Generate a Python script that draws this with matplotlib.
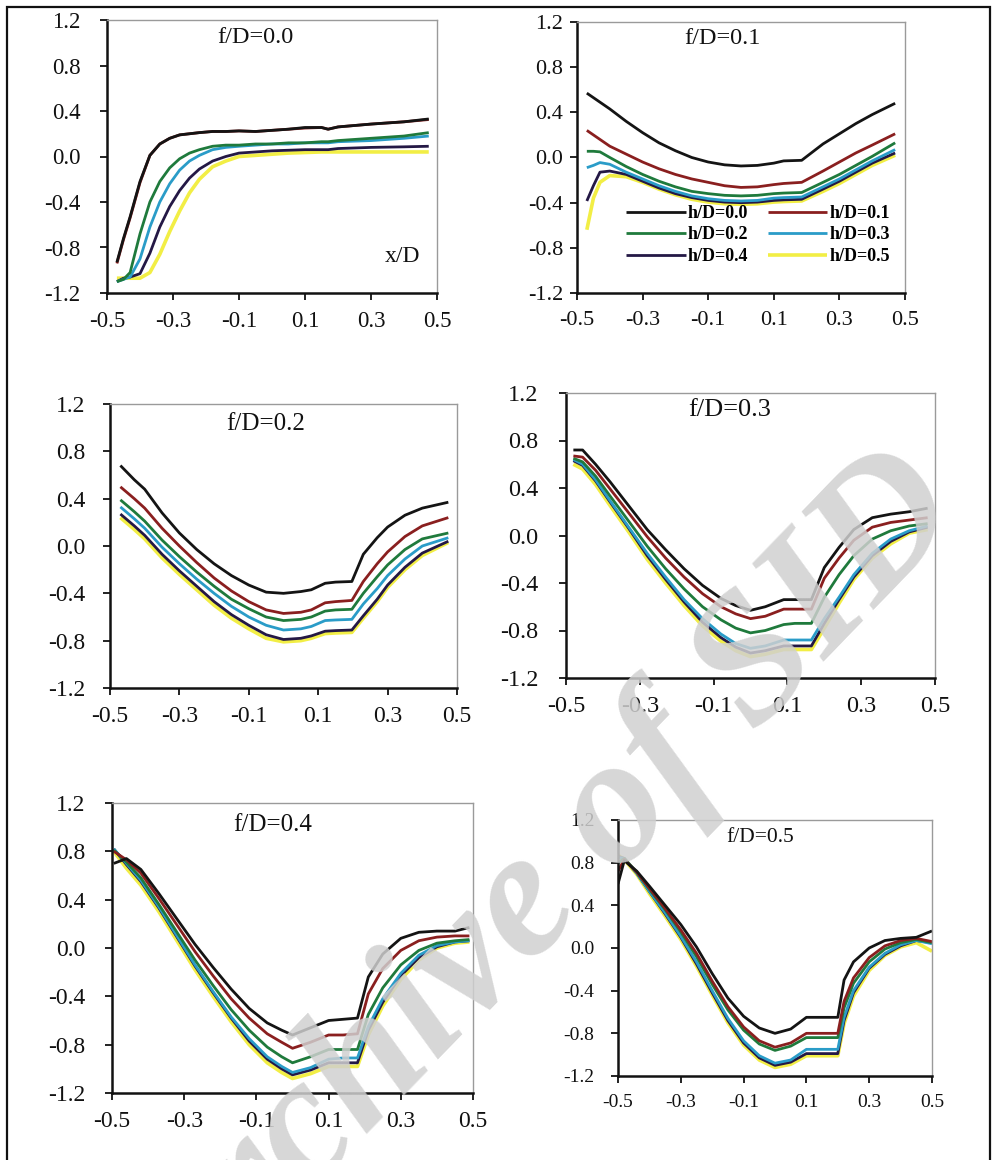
import matplotlib
matplotlib.use("Agg")
import matplotlib.pyplot as plt
from matplotlib.patches import Rectangle

plt.rcParams['font.family'] = ['Liberation Serif', 'DejaVu Serif']
plt.rcParams['axes.unicode_minus'] = False

series_labels = ["h/D=0.0", "h/D=0.1", "h/D=0.2", "h/D=0.3", "h/D=0.4", "h/D=0.5"]
series_colors = ["#141414", "#8a1f1f", "#1f7a3c", "#2a9cc8", "#241845", "#f2ee45"]
panel_titles = ["f/D=0.0", "f/D=0.1", "f/D=0.2", "f/D=0.3", "f/D=0.4", "f/D=0.5"]
x_ticks = [-0.5, -0.3, -0.1, 0.1, 0.3, 0.5]
y_ticks = [1.2, 0.8, 0.4, 0.0, -0.4, -0.8, -1.2]

# ---- f/D = 0.0 ----
x_f00 = [-0.47, -0.45, -0.43, -0.40, -0.37, -0.34, -0.31, -0.28, -0.25, -0.22, -0.18,
         -0.14, -0.10, -0.05, 0.0, 0.05, 0.10, 0.15, 0.17, 0.20, 0.30, 0.40, 0.475]
f00_h00 = [-0.93, -0.72, -0.53, -0.22, 0.01, 0.11, 0.16, 0.19, 0.20, 0.21, 0.22,
           0.22, 0.225, 0.22, 0.23, 0.24, 0.255, 0.255, 0.24, 0.26, 0.285, 0.305, 0.33]
f00_h01 = [-0.94, -0.73, -0.54, -0.23, 0.01, 0.11, 0.16, 0.19, 0.20, 0.21, 0.22,
           0.22, 0.225, 0.22, 0.23, 0.24, 0.25, 0.255, 0.24, 0.26, 0.285, 0.305, 0.325]
f00_h02 = [-1.10, -1.08, -1.02, -0.68, -0.40, -0.22, -0.10, -0.02, 0.03, 0.06, 0.09,
           0.10, 0.10, 0.11, 0.11, 0.12, 0.12, 0.13, 0.13, 0.14, 0.16, 0.18, 0.21]
f00_h03 = [-1.10, -1.08, -1.06, -0.90, -0.62, -0.40, -0.24, -0.12, -0.04, 0.01, 0.06,
           0.08, 0.09, 0.10, 0.11, 0.11, 0.12, 0.12, 0.12, 0.13, 0.14, 0.16, 0.18]
f00_h04 = [-1.10, -1.07, -1.06, -1.03, -0.85, -0.62, -0.44, -0.30, -0.19, -0.11, -0.04,
           0.0, 0.03, 0.04, 0.05, 0.055, 0.06, 0.06, 0.06, 0.07, 0.08, 0.085, 0.09]
f00_h05 = [-1.07, -1.07, -1.07, -1.07, -1.02, -0.86, -0.66, -0.48, -0.32, -0.20, -0.09,
           -0.04, 0.0, 0.01, 0.02, 0.03, 0.035, 0.04, 0.04, 0.04, 0.04, 0.04, 0.04]

# ---- f/D = 0.1 ----
x_f01 = [-0.47, -0.45, -0.43, -0.40, -0.35, -0.30, -0.25, -0.20, -0.15, -0.10, -0.05,
         0.0, 0.05, 0.10, 0.13, 0.185, 0.25, 0.30, 0.35, 0.40, 0.47]
f01_h00 = [0.57, 0.53, 0.49, 0.43, 0.32, 0.22, 0.13, 0.06, 0.0, -0.04, -0.065,
           -0.075, -0.07, -0.05, -0.03, -0.025, 0.12, 0.21, 0.30, 0.38, 0.48]
f01_h01 = [0.24, 0.20, 0.16, 0.10, 0.03, -0.04, -0.10, -0.15, -0.19, -0.22, -0.25,
           -0.265, -0.26, -0.24, -0.23, -0.22, -0.12, -0.04, 0.04, 0.11, 0.21]
f01_h02 = [0.055, 0.055, 0.05, 0.0, -0.08, -0.15, -0.21, -0.26, -0.30, -0.32, -0.335,
           -0.34, -0.335, -0.32, -0.315, -0.31, -0.22, -0.15, -0.07, 0.01, 0.13]
f01_h03 = [-0.09, -0.07, -0.045, -0.06, -0.13, -0.19, -0.25, -0.30, -0.34, -0.365, -0.38,
           -0.385, -0.38, -0.36, -0.355, -0.35, -0.26, -0.19, -0.11, -0.03, 0.07]
f01_h04 = [-0.385, -0.25, -0.13, -0.12, -0.15, -0.21, -0.27, -0.32, -0.355, -0.38, -0.395,
           -0.40, -0.395, -0.38, -0.375, -0.37, -0.28, -0.21, -0.13, -0.05, 0.04]
f01_h05 = [-0.64, -0.36, -0.22, -0.16, -0.17, -0.22, -0.28, -0.33, -0.37, -0.395, -0.41,
           -0.415, -0.41, -0.395, -0.39, -0.385, -0.30, -0.23, -0.15, -0.07, 0.02]

# ---- f/D = 0.2 ----
x_f02 = [-0.47, -0.43, -0.40, -0.35, -0.30, -0.25, -0.20, -0.15, -0.10, -0.05, 0.0,
         0.05, 0.08, 0.12, 0.15, 0.197, 0.23, 0.27, 0.30, 0.35, 0.40, 0.475]
f02_h00 = [0.68, 0.56, 0.48, 0.28, 0.11, -0.03, -0.15, -0.25, -0.33, -0.39, -0.40,
           -0.385, -0.37, -0.315, -0.305, -0.30, -0.07, 0.07, 0.16, 0.26, 0.32, 0.37]
f02_h01 = [0.50, 0.40, 0.32, 0.15, 0.0, -0.14, -0.27, -0.38, -0.47, -0.54, -0.57,
           -0.56, -0.54, -0.48, -0.47, -0.46, -0.30, -0.15, -0.05, 0.08, 0.17, 0.24]
f02_h02 = [0.39, 0.29, 0.21, 0.05, -0.09, -0.22, -0.34, -0.45, -0.53, -0.60, -0.63,
           -0.62, -0.60, -0.55, -0.54, -0.535, -0.40, -0.26, -0.16, -0.03, 0.06, 0.11]
f02_h03 = [0.33, 0.23, 0.15, -0.01, -0.15, -0.28, -0.40, -0.51, -0.60, -0.67, -0.71,
           -0.70, -0.68, -0.63, -0.625, -0.62, -0.49, -0.36, -0.25, -0.11, 0.0, 0.07]
f02_h04 = [0.27, 0.17, 0.09, -0.07, -0.21, -0.34, -0.47, -0.58, -0.67, -0.75, -0.79,
           -0.78, -0.76, -0.72, -0.715, -0.71, -0.59, -0.45, -0.33, -0.18, -0.06, 0.04]
f02_h05 = [0.24, 0.14, 0.06, -0.10, -0.24, -0.37, -0.50, -0.61, -0.70, -0.78, -0.81,
           -0.80, -0.78, -0.74, -0.735, -0.73, -0.61, -0.47, -0.35, -0.20, -0.08, 0.03]

# ---- f/D = 0.3 ----
x_f03 = [-0.48, -0.455, -0.42, -0.38, -0.33, -0.28, -0.23, -0.18, -0.13, -0.08, -0.04,
         0.0, 0.04, 0.09, 0.12, 0.165, 0.20, 0.24, 0.28, 0.33, 0.38, 0.43, 0.48]
f03_h00 = [0.72, 0.72, 0.60, 0.45, 0.25, 0.05, -0.12, -0.28, -0.42, -0.53, -0.59,
           -0.63, -0.60, -0.54, -0.54, -0.54, -0.27, -0.10, 0.05, 0.15, 0.18, 0.20, 0.23]
f03_h01 = [0.67, 0.66, 0.55, 0.39, 0.19, -0.01, -0.19, -0.35, -0.49, -0.60, -0.66,
           -0.70, -0.68, -0.62, -0.62, -0.62, -0.36, -0.19, -0.04, 0.07, 0.11, 0.13, 0.15]
f03_h02 = [0.65, 0.62, 0.50, 0.33, 0.12, -0.09, -0.28, -0.45, -0.60, -0.71, -0.78,
           -0.82, -0.80, -0.75, -0.74, -0.74, -0.52, -0.33, -0.17, -0.03, 0.04, 0.08, 0.10]
f03_h03 = [0.64, 0.60, 0.47, 0.29, 0.07, -0.15, -0.35, -0.54, -0.70, -0.83, -0.91,
           -0.95, -0.93, -0.88, -0.88, -0.88, -0.70, -0.52, -0.33, -0.15, -0.03, 0.04, 0.08]
f03_h04 = [0.63, 0.59, 0.46, 0.28, 0.06, -0.17, -0.37, -0.56, -0.73, -0.86, -0.94,
           -0.99, -0.97, -0.93, -0.93, -0.93, -0.74, -0.54, -0.35, -0.17, -0.05, 0.03, 0.07]
f03_h05 = [0.60, 0.56, 0.43, 0.25, 0.03, -0.20, -0.40, -0.59, -0.76, -0.89, -0.97,
           -1.02, -1.00, -0.96, -0.96, -0.96, -0.78, -0.57, -0.37, -0.19, -0.07, 0.02, 0.05]

# ---- f/D = 0.4 ----
x_f04 = [-0.495, -0.46, -0.42, -0.37, -0.32, -0.27, -0.22, -0.17, -0.12, -0.07, -0.03,
         0.0, 0.05, 0.10, 0.14, 0.18, 0.21, 0.25, 0.30, 0.35, 0.40, 0.45, 0.49]
f04_h00 = [0.70, 0.74, 0.65, 0.45, 0.24, 0.03, -0.16, -0.34, -0.50, -0.62, -0.68,
           -0.72, -0.66, -0.60, -0.59, -0.58, -0.24, -0.05, 0.08, 0.13, 0.14, 0.14, 0.17]
f04_h01 = [0.80, 0.73, 0.62, 0.41, 0.19, -0.03, -0.23, -0.42, -0.58, -0.71, -0.78,
           -0.83, -0.78, -0.72, -0.72, -0.71, -0.38, -0.17, -0.02, 0.06, 0.09, 0.10, 0.10]
f04_h02 = [0.81, 0.71, 0.58, 0.36, 0.13, -0.10, -0.31, -0.51, -0.68, -0.82, -0.90,
           -0.95, -0.90, -0.84, -0.84, -0.84, -0.55, -0.33, -0.14, -0.02, 0.04, 0.06, 0.07]
f04_h03 = [0.82, 0.70, 0.56, 0.34, 0.10, -0.14, -0.36, -0.57, -0.75, -0.90, -0.98,
           -1.03, -0.99, -0.92, -0.91, -0.91, -0.65, -0.42, -0.21, -0.06, 0.02, 0.05, 0.06]
f04_h04 = [0.82, 0.69, 0.55, 0.33, 0.09, -0.15, -0.37, -0.58, -0.77, -0.92, -1.00,
           -1.05, -1.01, -0.95, -0.95, -0.95, -0.68, -0.45, -0.23, -0.08, 0.01, 0.05, 0.06]
f04_h05 = [0.80, 0.66, 0.52, 0.30, 0.06, -0.18, -0.40, -0.61, -0.80, -0.95, -1.03,
           -1.08, -1.04, -0.98, -0.98, -0.98, -0.72, -0.48, -0.26, -0.10, 0.0, 0.04, 0.05]

# ---- f/D = 0.5 ----
x_f05 = [-0.50, -0.48, -0.44, -0.40, -0.35, -0.30, -0.25, -0.20, -0.15, -0.10, -0.05,
         0.0, 0.05, 0.10, 0.20, 0.22, 0.25, 0.30, 0.35, 0.40, 0.45, 0.50]
f05_h00 = [0.60, 0.82, 0.72, 0.58, 0.40, 0.22, 0.01, -0.24, -0.47, -0.64, -0.75,
           -0.80, -0.76, -0.65, -0.65, -0.30, -0.13, 0.0, 0.07, 0.09, 0.10, 0.16]
f05_h01 = [0.72, 0.83, 0.71, 0.56, 0.37, 0.17, -0.05, -0.31, -0.55, -0.74, -0.87,
           -0.93, -0.89, -0.80, -0.80, -0.50, -0.28, -0.09, 0.02, 0.07, 0.09, 0.06]
f05_h02 = [0.80, 0.84, 0.71, 0.55, 0.36, 0.15, -0.08, -0.34, -0.58, -0.77, -0.90,
           -0.96, -0.92, -0.84, -0.84, -0.56, -0.33, -0.13, -0.01, 0.05, 0.08, 0.05]
f05_h03 = [0.85, 0.84, 0.70, 0.53, 0.33, 0.11, -0.13, -0.40, -0.66, -0.87, -1.01,
           -1.08, -1.05, -0.95, -0.95, -0.65, -0.40, -0.18, -0.05, 0.03, 0.07, 0.04]
f05_h04 = [0.86, 0.84, 0.70, 0.53, 0.32, 0.10, -0.15, -0.42, -0.68, -0.89, -1.03,
           -1.10, -1.07, -0.99, -0.99, -0.68, -0.42, -0.19, -0.06, 0.02, 0.07, 0.05]
f05_h05 = [0.87, 0.83, 0.69, 0.51, 0.30, 0.08, -0.17, -0.44, -0.70, -0.91, -1.05,
           -1.12, -1.09, -1.01, -1.01, -0.71, -0.45, -0.21, -0.07, 0.01, 0.05, -0.03]

panels = [
    (x_f00, [f00_h00, f00_h01, f00_h02, f00_h03, f00_h04, f00_h05]),
    (x_f01, [f01_h00, f01_h01, f01_h02, f01_h03, f01_h04, f01_h05]),
    (x_f02, [f02_h00, f02_h01, f02_h02, f02_h03, f02_h04, f02_h05]),
    (x_f03, [f03_h00, f03_h01, f03_h02, f03_h03, f03_h04, f03_h05]),
    (x_f04, [f04_h00, f04_h01, f04_h02, f04_h03, f04_h04, f04_h05]),
    (x_f05, [f05_h00, f05_h01, f05_h02, f05_h03, f05_h04, f05_h05]),
]

W, H = 997, 1160
# axes boxes in pixels: left, right, top, bottom
boxes = [(107, 437, 20, 293), (577, 905, 22, 293),
         (110, 457, 404, 688), (566, 935, 393, 678),
         (112, 473, 803, 1093), (618, 932, 820, 1076)]
tick_fs = [16.5, 16, 17, 17.5, 17, 14]
title_fs = [17.5, 17.5, 18, 19, 18, 15.5]
ypads = [14, 5, 13, 15, 14, 12]
title_pos = [(0.45, 0.935), (0.445, 0.94), (0.45, 0.93), (0.444, 0.94), (0.446, 0.925), (0.452, 0.93)]

fig = plt.figure(figsize=(W / 100, H / 100), dpi=100)

for i, ((l, r, t, b), (xv, ys)) in enumerate(zip(boxes, panels)):
    ax = fig.add_axes([l / W, 1 - b / H, (r - l) / W, (b - t) / H])
    for k in range(5, -1, -1):
        ax.plot(xv, ys[k], color=series_colors[k], lw=2.0 if k != 5 else 2.6,
                label=series_labels[k], solid_capstyle='butt')
    ax.set_xlim(-0.5, 0.5)
    ax.set_ylim(-1.2, 1.2)
    ax.set_xticks(x_ticks)
    ax.set_xticklabels([f"{v:.1f}" for v in x_ticks])
    ax.set_yticks(y_ticks)
    ax.set_yticklabels([f"{v:.1f}" for v in y_ticks])
    for s in ['left', 'bottom']:
        ax.spines[s].set_color('#111111')
        ax.spines[s].set_linewidth(1.8)
    for s in ['top', 'right']:
        ax.spines[s].set_color('#9a9a9a')
        ax.spines[s].set_linewidth(1.0)
    ax.tick_params(axis='x', direction='out', length=5, width=1.3, pad=8,
                   labelsize=tick_fs[i], colors='#111111')
    ax.tick_params(axis='y', direction='out', length=5, width=1.3, pad=ypads[i],
                   labelsize=tick_fs[i], colors='#111111')
    ax.text(title_pos[i][0], title_pos[i][1], panel_titles[i], transform=ax.transAxes,
            ha='center', va='center', fontsize=title_fs[i], color='#111111')
    if i == 0:
        ax.text(0.897, 0.132, "x/D", transform=ax.transAxes, ha='center', va='center',
                fontsize=17, color='#111111')
    if i == 1:
        handles, labels = ax.get_legend_handles_labels()
        order = [labels.index(s) for s in ["h/D=0.0", "h/D=0.2", "h/D=0.4",
                                           "h/D=0.1", "h/D=0.3", "h/D=0.5"]]
        ax.legend([handles[j] for j in order], [labels[j] for j in order],
                  ncol=2, loc='lower left', bbox_to_anchor=(0.122, 0.07), frameon=False,
                  borderpad=0, handlelength=3.3, handletextpad=0.1, columnspacing=1.1,
                  labelspacing=0.25, prop={'family': 'Liberation Serif', 'size': 13,
                                           'weight': 'bold'})

# outer frame
fig.patches.append(Rectangle((7 / W, -0.01), (990 - 7) / W, 1 - 7 / H + 0.01,
                             transform=fig.transFigure, fill=False,
                             edgecolor='#111111', linewidth=1.6))

# watermark
fig.text(542 / W, 1 - 900 / H, "Archive of SID", rotation=46, ha='center', va='center',
         fontsize=132, fontstyle='italic', fontweight='bold', color='#d0d0d0',
         alpha=0.85, zorder=10)

fig.savefig("out.png", dpi=100)
